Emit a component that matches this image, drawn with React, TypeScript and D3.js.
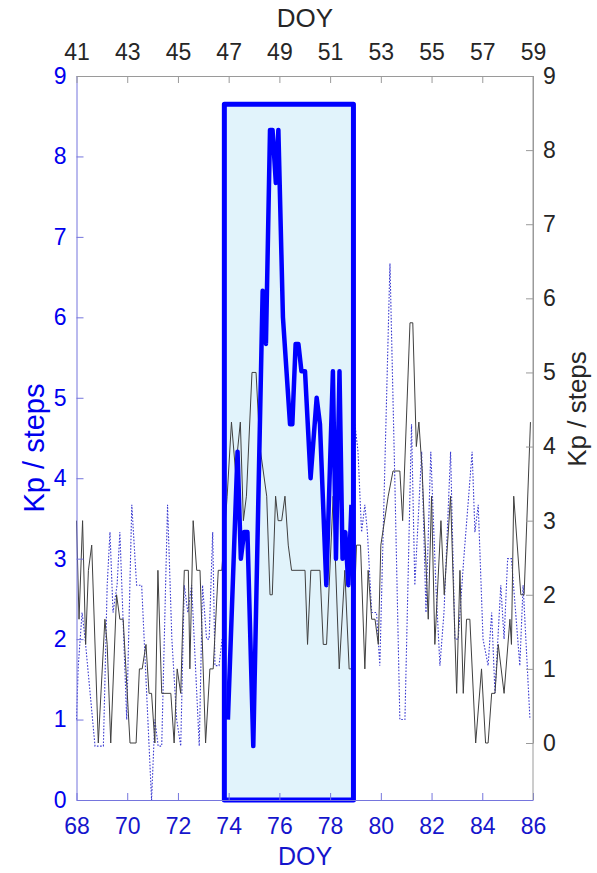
import { useEffect, useRef } from 'react';
import * as d3 from 'd3';

// thin black line (top DOY axis, right Kp axis)
const stepDoy = [
  41.0, 41.1, 41.24, 41.36, 41.47, 41.6, 41.86, 42.12, 42.21, 42.35, 42.58, 42.71, 42.84,
  43.11, 43.35, 43.48, 43.59, 43.74, 43.86, 43.96, 44.09, 44.21, 44.36, 44.72, 44.85, 44.97,
  45.11, 45.25, 45.41, 45.47, 45.6, 45.74, 45.87, 46.09, 46.26, 46.39, 46.59, 46.73, 46.94,
  47.11, 47.27, 47.46, 47.58, 47.7, 47.92, 48.08, 48.23, 48.5, 48.63, 48.72, 48.85, 48.95,
  49.09, 49.22, 49.35, 49.48, 50.01, 50.11, 50.24, 50.6, 50.73, 50.86, 51.12, 51.36, 51.58,
  51.75, 51.86, 52.04, 52.2, 52.37, 52.5, 52.64, 52.77, 52.9, 53.0, 53.29, 53.48, 53.75,
  53.86, 54.15, 54.26, 54.4, 54.5, 54.63, 54.87, 55.0, 55.13, 55.37, 55.5, 55.75, 55.99,
  56.12, 56.25, 56.38, 56.51, 56.74, 56.97, 57.13, 57.23, 57.37, 57.5, 57.63, 57.86, 58.09,
  58.15, 58.24, 58.52, 58.65, 58.9,
];
const stepKp = [
  3.0, 1.67, 3.0, 1.33, 2.33, 2.67, 0, 1.67, 1.33, 0, 2.0, 1.67, 1.67,
  0, 0, 1.0, 1.0, 1.33, 0.67, 0.67, 0, 2.33, 0.67, 0.67, 0, 1.0,
  0.67, 2.33, 2.33, 1.0, 3.0, 2.33, 2.33, 0, 1.0, 1.0, 2.33, 2.33, 3.33,
  4.33, 3.67, 4.33, 3.0, 3.33, 5.0, 5.0, 4.0, 3.33, 2.0, 2.0, 3.33, 3.0,
  3.0, 3.33, 2.67, 2.33, 2.33, 1.33, 2.33, 2.33, 1.33, 1.33, 3.33, 1.0, 2.33,
  1.0, 1.0, 2.67, 2.67, 1.0, 2.33, 1.67, 1.67, 1.33, 2.67, 3.33, 3.67, 3.67,
  3.0, 5.67, 5.67, 4.0, 4.33, 3.67, 1.67, 3.33, 1.33, 3.0, 2.0, 3.33, 0.67,
  2.33, 0.67, 1.67, 1.67, 0, 1.0, 0, 0, 0.67, 0.67, 1.33, 0.67, 1.67,
  1.33, 3.33, 2.0, 2.0, 4.33,
];

// dotted blue Kp before the event window
const kpBeforeDoy = [
  68.0, 68.07, 68.22, 68.34, 68.73, 69.06, 69.21, 69.32, 69.44, 69.6, 69.71, 69.98, 70.18,
  70.37, 70.57, 70.96, 71.09, 71.22, 71.36, 71.59, 71.76, 71.95, 72.11, 72.25, 72.39, 72.54,
  72.84, 72.97, 73.13, 73.23, 73.37, 73.46, 73.62, 73.74,
];
const kpBefore = [
  1.0, 1.67, 2.33, 2.0, 0.67, 0.67, 2.67, 3.33, 2.33, 2.67, 3.33, 1.0, 3.67,
  2.67, 2.67, 0, 1.0, 0.67, 0.67, 3.67, 2.0, 1.0, 0.67, 2.67, 2.33, 2.67,
  0.67, 2.67, 2.0, 2.0, 3.33, 1.67, 1.67, 2.0,
];

// dotted blue Kp after the event window
const kpAfterDoy = [
  78.98, 79.1, 79.24, 79.37, 79.47, 79.64, 79.83, 79.96, 80.36, 80.55, 80.75, 80.95, 81.21,
  81.34, 81.61, 81.78, 81.97, 82.17, 82.33, 82.49, 82.75, 82.92, 83.05, 83.27, 83.6, 83.71,
  83.84, 84.03, 84.23, 84.37, 84.5, 84.73, 84.86, 85.0, 85.15, 85.48, 85.61, 85.88,
];
const kpAfter = [
  4.67, 4.33, 3.33, 3.67, 3.33, 2.33, 2.33, 1.67, 6.67, 4.0, 1.0, 1.0, 4.67,
  2.67, 4.33, 2.33, 4.33, 2.67, 1.67, 2.33, 4.33, 2.0, 2.0, 3.0, 4.33, 3.33,
  3.67, 2.0, 1.67, 2.33, 1.33, 2.67, 2.0, 3.0, 3.0, 1.67, 2.67, 1.0,
];

// thick blue Kp inside the event window
const kpEventDoy = [
  73.97, 74.35, 74.48, 74.61, 74.74, 74.97, 75.34, 75.47, 75.63, 75.73, 75.86, 75.96, 76.14,
  76.42, 76.51, 76.64, 76.75, 76.87, 77.01, 77.23, 77.47, 77.6, 77.85, 78.11, 78.23, 78.37,
  78.49, 78.6, 78.72, 78.84,
];
const kpEvent = [
  1.0, 4.33, 3.0, 3.33, 3.33, 0.67, 6.33, 5.67, 8.33, 8.33, 7.67, 8.33, 6.0,
  4.67, 4.67, 5.67, 5.67, 5.33, 5.33, 4.0, 5.0, 4.67, 2.67, 5.33, 3.0, 5.33,
  3.0, 3.33, 2.67, 3.67,
];

const eventWindow = [73.83, 78.92];
const eventTop = 8.65;

const bottomTicks = [68, 70, 72, 74, 76, 78, 80, 82, 84, 86];
const topTicks = [41, 43, 45, 47, 49, 51, 53, 55, 57, 59];
const kpTicks = [0, 1, 2, 3, 4, 5, 6, 7, 8, 9];

const FONT = '"Liberation Sans", Arial, sans-serif';

export default function App() {
  const svgRef = useRef<SVGSVGElement>(null);

  useEffect(() => {
    const svg = d3.select(svgRef.current);
    svg.selectAll('*').remove();

    const x = d3.scaleLinear().domain([68, 86]).range([76.5, 533]);
    const xTop = d3.scaleLinear().domain([41, 59]).range([76.5, 533]);
    const yLeft = d3.scaleLinear().domain([0, 9]).range([800, 76]);
    const yRight = d3.scaleLinear().domain([0, 9]).range([743, 76]);

    // event window fill
    svg
      .append('rect')
      .attr('x', x(eventWindow[0]))
      .attr('y', yLeft(eventTop))
      .attr('width', x(eventWindow[1]) - x(eventWindow[0]))
      .attr('height', yLeft(0) - yLeft(eventTop))
      .attr('fill', '#e1f3fb');

    const dotted = (xs: number[], ys: number[]) =>
      svg
        .append('path')
        .attr('d', d3.line<number>().x((_, i) => x(xs[i])).y((d) => yLeft(d))(ys))
        .attr('fill', 'none')
        .attr('stroke', '#3b3bd0')
        .attr('stroke-width', 1.1)
        .attr('stroke-dasharray', '1.6 1.6');
    dotted(kpBeforeDoy, kpBefore);
    dotted(kpAfterDoy, kpAfter);

    svg
      .append('path')
      .attr('d', d3.line<number>().x((_, i) => xTop(stepDoy[i])).y((d) => yRight(d))(stepKp))
      .attr('fill', 'none')
      .attr('stroke', '#404040')
      .attr('stroke-width', 1);

    svg
      .append('path')
      .attr('d', d3.line<number>().x((_, i) => x(kpEventDoy[i])).y((d) => yLeft(d))(kpEvent))
      .attr('fill', 'none')
      .attr('stroke', '#0000ff')
      .attr('stroke-width', 4.5)
      .attr('stroke-linejoin', 'round');

    // event window border
    svg
      .append('rect')
      .attr('x', x(eventWindow[0]))
      .attr('y', yLeft(eventTop))
      .attr('width', x(eventWindow[1]) - x(eventWindow[0]))
      .attr('height', yLeft(0) - yLeft(eventTop))
      .attr('fill', 'none')
      .attr('stroke', '#0000ff')
      .attr('stroke-width', 5)
      .attr('stroke-linejoin', 'round');

    const styleAxis = (g, lineColor, textColor) => {
      g.select('.domain').attr('stroke', lineColor).attr('stroke-width', 1);
      g.selectAll('.tick line').attr('stroke', lineColor);
      g.selectAll('.tick text')
        .attr('fill', textColor)
        .style('font-family', FONT)
        .style('font-size', '23px');
    };

    svg
      .append('g')
      .attr('transform', 'translate(76.5,0)')
      .call(d3.axisLeft(yLeft).tickValues(kpTicks).tickSizeInner(-7).tickSizeOuter(0).tickPadding(10))
      .call((g) => styleAxis(g, '#7575dd', '#0000ee'));

    svg
      .append('g')
      .attr('transform', 'translate(0,800)')
      .call(d3.axisBottom(x).tickValues(bottomTicks).tickSizeInner(-7).tickSizeOuter(0).tickPadding(18))
      .call((g) => styleAxis(g, '#7575dd', '#1515cc'));

    svg
      .append('g')
      .attr('transform', 'translate(0,76)')
      .call(d3.axisTop(xTop).tickValues(topTicks).tickSizeInner(-7).tickSizeOuter(0).tickPadding(16))
      .call((g) => styleAxis(g, '#9a9a9a', '#262626'));

    svg
      .append('g')
      .attr('transform', 'translate(533,0)')
      .call(d3.axisRight(yRight).tickValues(kpTicks).tickSizeInner(-7).tickSizeOuter(0).tickPadding(10))
      .call((g) => styleAxis(g, '#9a9a9a', '#262626'));

    // right axis line continues to the bottom of the frame
    svg
      .append('line')
      .attr('x1', 533)
      .attr('x2', 533)
      .attr('y1', 76)
      .attr('y2', 800)
      .attr('stroke', '#9a9a9a');

    const label = (text, tx, ty, color, size, rotate = 0) =>
      svg
        .append('text')
        .attr('transform', `translate(${tx},${ty}) rotate(${rotate})`)
        .attr('text-anchor', 'middle')
        .attr('fill', color)
        .style('font-family', FONT)
        .style('font-size', `${size}px`)
        .text(text);

    label('DOY', 305, 27, '#262626', 26);
    label('DOY', 305, 865, '#1515cc', 25);
    label('Kp / steps', 44, 448, '#0000ee', 29, -90);
    label('Kp / steps', 586, 409, '#262626', 26, -90);
  }, []);

  return (
    <svg
      ref={svgRef}
      width={597}
      height={873}
      style={{ position: 'absolute', left: 0, top: 0, background: '#fff' }}
    />
  );
}
